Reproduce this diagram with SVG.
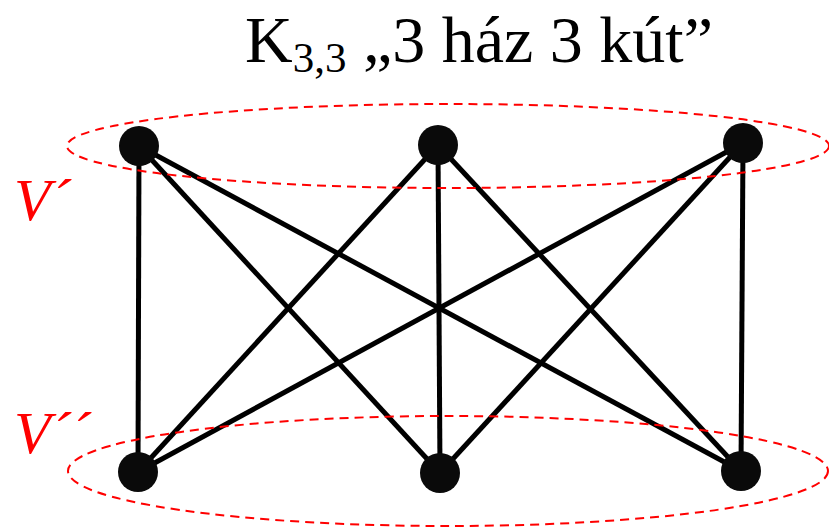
<svg xmlns="http://www.w3.org/2000/svg" width="829" height="531" viewBox="0 0 829 531">
<style>
.e{stroke:#000;stroke-width:5;fill:none}
.n{fill:#0a0a0a}
.set{fill:none;stroke:#f00;stroke-width:2;stroke-dasharray:9 6}
.t{font-family:"Liberation Serif",serif;font-size:66px;fill:#000}
.v{font-family:"Liberation Serif",serif;font-style:italic;font-size:60px;fill:#f00}
</style>
<rect width="829" height="531" fill="#fff"/>
<text class="t" x="245" y="62">K<tspan font-size="43" dy="10">3,3</tspan><tspan dy="-10"> „3 ház 3 kút”</tspan></text>
<g id="edges">
<line class="e" x1="139" y1="146" x2="138" y2="472"/>
<line class="e" x1="139" y1="146" x2="440" y2="473"/>
<line class="e" x1="139" y1="146" x2="741" y2="471"/>
<line class="e" x1="438" y1="145" x2="138" y2="472"/>
<line class="e" x1="438" y1="145" x2="440" y2="473"/>
<line class="e" x1="438" y1="145" x2="741" y2="471"/>
<line class="e" x1="743" y1="143" x2="138" y2="472"/>
<line class="e" x1="743" y1="143" x2="440" y2="473"/>
<line class="e" x1="743" y1="143" x2="741" y2="471"/>
</g>
<g id="a1"><circle class="n" cx="139" cy="146" r="20"/></g>
<g id="a2"><circle class="n" cx="438" cy="145" r="20"/></g>
<g id="a3"><circle class="n" cx="743" cy="143" r="20"/></g>
<g id="b1"><circle class="n" cx="138" cy="472" r="20"/></g>
<g id="b2"><circle class="n" cx="440" cy="473" r="20"/></g>
<g id="b3"><circle class="n" cx="741" cy="471" r="20"/></g>
<g id="setV1"><ellipse class="set" cx="448" cy="146" rx="381" ry="42"/><text class="v" x="14" y="220">V´</text></g>
<g id="setV2"><ellipse class="set" cx="448" cy="471" rx="380" ry="55"/><text class="v" x="14" y="453">V´´</text></g>
</svg>
